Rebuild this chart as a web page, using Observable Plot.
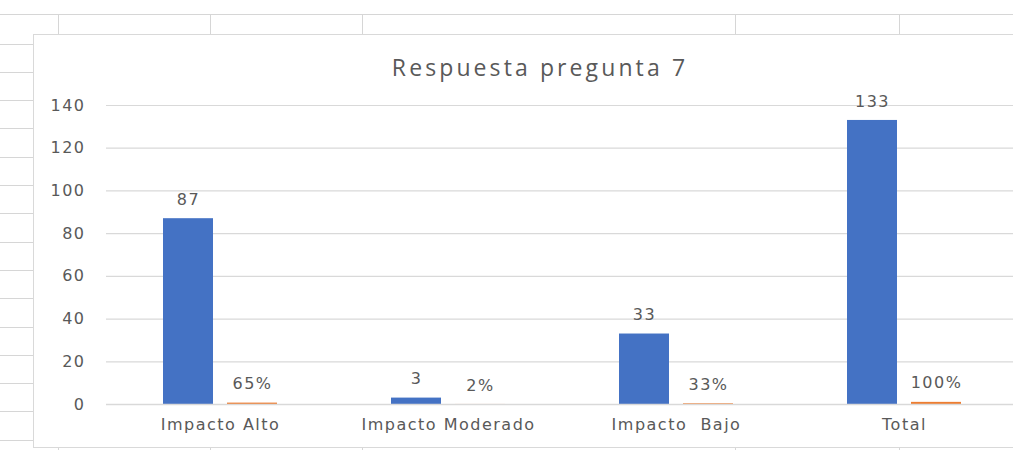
<!DOCTYPE html>
<html>
<head>
<meta charset="utf-8">
<script src="https://cdn.jsdelivr.net/npm/d3@7"></script>
<script src="https://cdn.jsdelivr.net/npm/@observablehq/plot@0.6"></script>
<style>
  html, body { margin: 0; padding: 0; background: #fff; width: 1013px; height: 450px; overflow: hidden; position: relative; }
  .sheet { position: absolute; background: #d6d6d6; }
  #box { position: absolute; left: 33px; top: 34px; width: 1030px; height: 412px; border: 1px solid #d9d9d9; background: #fff; overflow: hidden; }
  #title { position: absolute; left: 0; width: 1012px; top: 19px; text-align: center; font-family: "Open Sans", sans-serif; font-size: 23px; letter-spacing: 3.1px; color: #595959; line-height: 26px; }
  #chart { position: absolute; left: 0; top: 50px; }
  #chart svg text { letter-spacing: 1.5px; }
</style>
</head>
<body>
<div id="box">
  <div id="title">Respuesta pregunta 7</div>
  <div id="chart"></div>
</div>
<script>
// ---- data ----
const categories = ["Impacto Alto", "Impacto Moderado", "Impacto\u00a0 Bajo", "Total"];
const counts = [87, 3, 33, 133];
const shares = [0.65, 0.02, 0.33, 1.00];
const seriesNames = ["Cantidad", "Porcentaje"];
const yTicks = [0, 20, 40, 60, 80, 100, 120, 140];
const seriesColors = ["#4472C4", "#ED7D31"];

// ---- spreadsheet background lines (decoration) ----
function sheetLine(l, t, w, h) {
  const d = document.createElement("div");
  d.className = "sheet";
  d.style.left = l + "px"; d.style.top = t + "px";
  d.style.width = w + "px"; d.style.height = h + "px";
  document.body.insertBefore(d, document.body.firstChild);
}
sheetLine(0, 14, 1013, 1);
[58, 210, 362, 735, 899].forEach(x => { sheetLine(x, 14, 1, 20); sheetLine(x, 447, 1, 3); });
for (let i = 0; i < 15; i++) sheetLine(0, Math.round(43.5 + i * 28.3), 33, 1);

// ---- table ----
const pct = d3.format(".0%");
const table = categories.flatMap((c, i) => [
  {cat: c, s: seriesNames[0], v: counts[i], label: String(counts[i])},
  {cat: c, s: seriesNames[1], v: shares[i], label: pct(shares[i])}
]);

const chart = Plot.plot({
  width: 1030,
  height: 363,
  marginLeft: 71,
  marginRight: 45,
  marginTop: 20,
  marginBottom: 44,
  style: {fontFamily: "DejaVu Sans", fontSize: "16px", color: "#595959", background: "transparent", overflow: "visible"},
  fx: {domain: categories, padding: 0, label: null, axis: "bottom", tickSize: 0, tickPadding: 14},
  x: {domain: seriesNames, paddingInner: 0.215, paddingOuter: 0.87, axis: null},
  y: {domain: [0, 140], ticks: yTicks, tickSize: 0, tickPadding: 21, label: null},
  color: {domain: seriesNames, range: seriesColors},
  marks: [
    Plot.gridY(yTicks.slice(1), {stroke: "#d9d9d9", strokeOpacity: 1, strokeWidth: 1.2}),
    Plot.barY(table, {fx: "cat", x: "s", y: "v", fill: "s"}),
    Plot.ruleY([0], {stroke: "#d9d9d9", strokeWidth: 1.6}),
    Plot.text(table, {fx: "cat", x: "s", y: "v", text: "label", dy: -19, fill: "#595959"})
  ]
});
document.getElementById("chart").appendChild(chart);
</script>
</body>
</html>
